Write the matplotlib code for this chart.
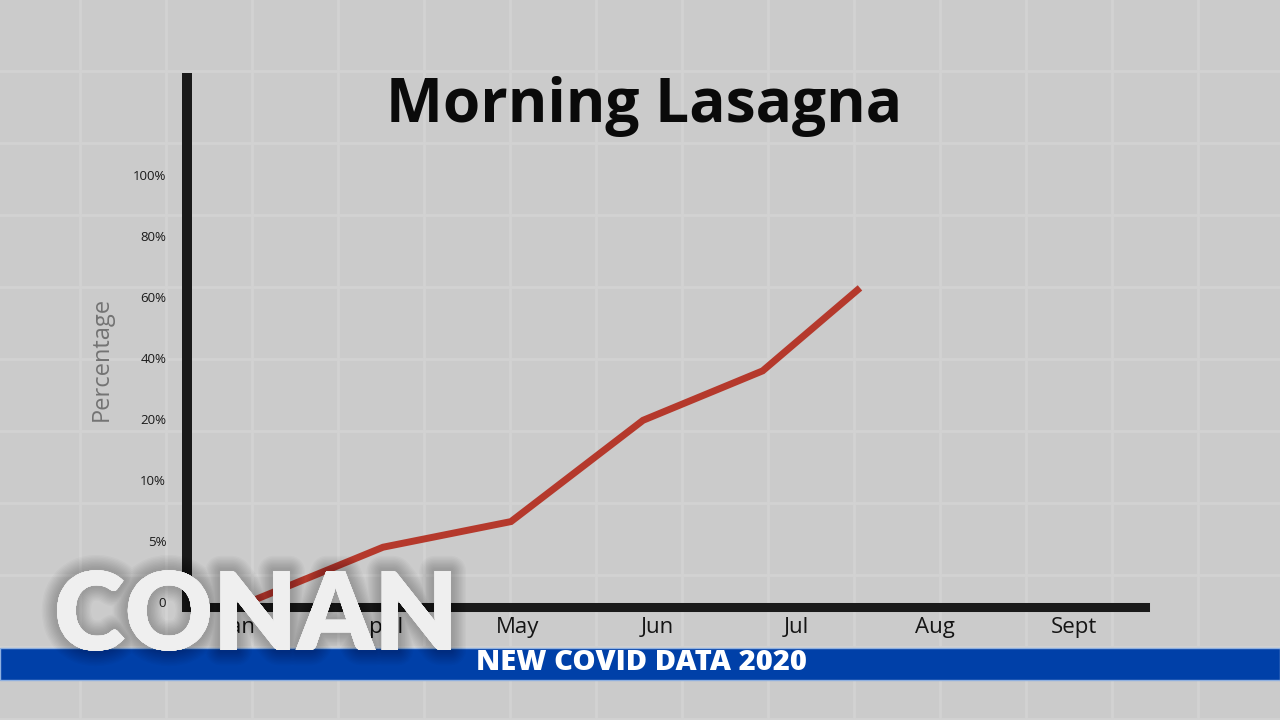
import numpy as np
import matplotlib
matplotlib.use("Agg")
import matplotlib.pyplot as plt
import matplotlib.patheffects as pe
from matplotlib.patches import Rectangle

# chart data
months = ["Jan", "April", "May", "Jun", "Jul", "Aug", "Sept"]
y_ticks = [0, 5, 10, 20, 40, 60, 80, 100]
y_tick_labels = ["0", "5%", "10%", "20%", "40%", "60%", "80%", "100%"]
x_pos = [0.11, 1.03, 1.95, 2.90, 3.76, 4.46]
pct = [0.2, 4.5, 6.6, 19.8, 35.8, 63.0]

title = "Morning Lasagna"
banner = "NEW COVID DATA 2020"

plt.rcParams['font.family'] = ['Open Sans', 'DejaVu Sans']

tick_idx = np.arange(len(y_ticks))


def fwd(v):
    v = np.asarray(v, dtype=float)
    out = np.interp(v, y_ticks, tick_idx)
    out = np.where(v > y_ticks[-1], tick_idx[-1] + (v - y_ticks[-1]) / 20.0, out)
    out = np.where(v < 0, v / 5.0, out)
    return out


def inv(i):
    i = np.asarray(i, dtype=float)
    out = np.interp(i, tick_idx, y_ticks)
    out = np.where(i > tick_idx[-1], y_ticks[-1] + (i - tick_idx[-1]) * 20.0, out)
    out = np.where(i < 0, i * 5.0, out)
    return out


fig = plt.figure(figsize=(12.8, 7.2), dpi=100)
fig.patch.set_facecolor("#cbcbcb")

# tiled background
bg = fig.add_axes([0, 0, 1, 1], zorder=-1)
bg.set_xlim(0, 1280)
bg.set_ylim(720, 0)
bg.set_facecolor("#cbcbcb")
for gx in np.arange(80, 1280, 86):
    bg.axvline(gx, color="#d2d2d2", lw=2)
for gy in np.arange(71, 720, 72):
    bg.axhline(gy, color="#d2d2d2", lw=2)
bg.axis("off")

# main chart
ax = fig.add_axes([187 / 1280, 113 / 720, (1145 - 187) / 1280, (607 - 78) / 720])
ax.set_facecolor("none")
ax.set_yscale("function", functions=(fwd, inv))
ax.plot(x_pos, pct, color="#b5392c", lw=5, solid_capstyle="butt", solid_joinstyle="miter")
ax.set_xlim(-0.38, 6.51)
ax.set_ylim(-0.4, 131.8)

ax.set_yticks(y_ticks)
ax.set_yticklabels(y_tick_labels)
ax.set_xticks(range(len(months)))
ax.set_xticklabels(months)
ax.tick_params(axis="y", length=0, pad=15, labelsize=9.5, labelcolor="#1a1a1a")
ax.tick_params(axis="x", length=0, pad=7, labelsize=16, labelcolor="#151515")
ax.minorticks_off()

for s in ["top", "right"]:
    ax.spines[s].set_visible(False)
ax.spines["left"].set_linewidth(7.2)
ax.spines["bottom"].set_linewidth(6.5)
ax.spines["left"].set_color("#1a1a1a")
ax.spines["bottom"].set_color("#1a1a1a")

ax.set_ylabel("Percentage", fontsize=17, color="#737373")
ax.yaxis.set_label_coords(-73 / 958, (607 - 359) / 529)

fig.text(644 / 1280, 1 - 122 / 720, title, ha="center", va="baseline",
         fontsize=43.5, fontweight="bold", color="#0a0a0a")

# banner
fig.patches.append(Rectangle((0, 1 - 680 / 720), 1, 32 / 720, transform=fig.transFigure,
                             facecolor="#0040a8", edgecolor="#8fb0e0", lw=1, zorder=4))
fig.text(641 / 1280, 1 - 663 / 720, banner, ha="center", va="center",
         fontsize=21, fontweight="heavy", color="white", zorder=5)

# soft shadow round the logo
halo = [pe.withStroke(linewidth=w, foreground="#000000", alpha=0.022) for w in range(22, 2, -2)]
fig.text(256 / 1280, 1 - 650 / 720, "CONAN", ha="center", va="baseline",
         fontsize=78, fontweight="heavy", color="#efefef", zorder=6,
         family=["Lato", "DejaVu Sans"], path_effects=halo + [pe.Normal()])

fig.savefig("out.png", dpi=100, facecolor=fig.get_facecolor())
